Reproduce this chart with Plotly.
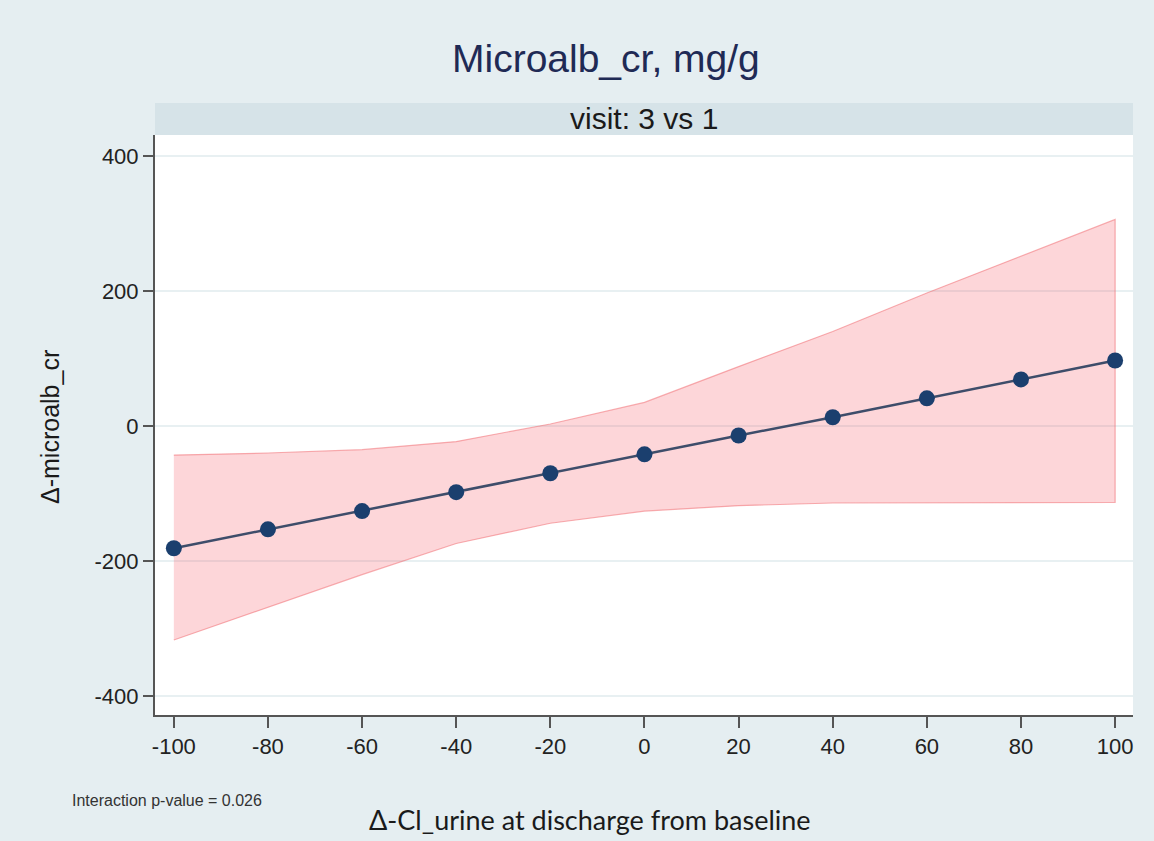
import plotly.graph_objects as go

# ---- data ----
x_vals = [-100, -80, -60, -40, -20, 0, 20, 40, 60, 80, 100]
est = [-181, -153, -126, -98, -70, -42, -14, 13, 41, 69, 97]
ci_upper = [-43, -40, -35, -23, 3, 35, 88, 140, 197, 252, 306]
ci_lower = [-317, -268, -220, -174, -144, -126, -118, -114, -113, -113, -113]
x_ticks = [-100, -80, -60, -40, -20, 0, 20, 40, 60, 80, 100]
y_ticks = [-400, -200, 0, 200, 400]

BG = "#e5eef1"
STRIP = "#d6e3e8"

fig = go.Figure()

# confidence band as closed polygon
fig.add_trace(go.Scatter(
    x=x_vals + x_vals[::-1],
    y=ci_upper + ci_lower[::-1],
    fill="toself",
    fillcolor="rgba(245,70,80,0.22)",
    line=dict(color="rgba(240,110,115,0.55)", width=1.2),
    mode="lines",
    hoverinfo="skip",
    showlegend=False,
))

# zero reference line
fig.add_hline(y=0, line=dict(color="#e23a3c", width=2.5), layer="above")

# estimate line + markers
fig.add_trace(go.Scatter(
    x=x_vals, y=est,
    mode="lines+markers",
    line=dict(color="#3e4d6a", width=2.5),
    marker=dict(color="#1b3f6e", size=16, line=dict(width=0)),
    showlegend=False,
))

H_PLOT = 580.0
W_PLOT = 978.0
L, T = 155, 135

def px_x(px):
    return (px - L) / W_PLOT

def px_y(py):
    return (T + H_PLOT - py) / H_PLOT

shapes = [
    # strip header
    dict(type="rect", xref="paper", yref="paper",
         x0=0, x1=1, y0=1, y1=px_y(103),
         fillcolor=STRIP, line=dict(width=0), layer="below"),
]

annotations = [
    dict(text="Microalb_cr, mg/g", xref="paper", yref="paper",
         x=px_x(606), y=px_y(58), showarrow=False,
         font=dict(family="Liberation Sans, Arial", size=39, color="#1f2a55"),
         xanchor="center", yanchor="middle"),
    dict(text="visit: 3 vs 1", xref="paper", yref="paper",
         x=0.5, y=px_y(119), showarrow=False,
         font=dict(family="Liberation Sans, Arial", size=30, color="#1a1a1a"),
         xanchor="center", yanchor="middle"),
    dict(text="Interaction p-value = 0.026", xref="paper", yref="paper",
         x=px_x(70), y=px_y(800), showarrow=False,
         font=dict(family="Liberation Sans, Arial", size=16, color="#333333"),
         xanchor="left", yanchor="middle"),
    dict(text="Δ-Cl_urine at discharge from baseline", xref="paper", yref="paper",
         x=px_x(590), y=px_y(819), showarrow=False,
         font=dict(family="Lato, Open Sans, sans-serif", size=27, color="#1a1a1a"),
         xanchor="center", yanchor="middle"),
    dict(text="Δ-microalb_cr", xref="paper", yref="paper",
         x=px_x(50), y=px_y(427), showarrow=False, textangle=-90,
         font=dict(family="Liberation Sans, Arial", size=25, color="#1a1a1a"),
         xanchor="center", yanchor="middle"),
]

fig.update_layout(
    width=1154, height=841,
    margin=dict(l=L, r=1154 - 1133, t=T, b=841 - 715, pad=0),
    paper_bgcolor=BG,
    plot_bgcolor="white",
    shapes=shapes,
    annotations=annotations,
    showlegend=False,
)

fig.update_xaxes(
    range=[-104, 103.8],
    tickvals=x_ticks,
    ticktext=[str(v) for v in x_ticks],
    showgrid=False, zeroline=False,
    showline=True, linecolor="#555555", linewidth=2,
    ticks="outside", ticklen=11, tickwidth=1.5, tickcolor="#555555",
    tickfont=dict(family="Liberation Sans, Arial", size=22, color="#222222"),
)
fig.update_yaxes(
    range=[-428, 431],
    tickvals=y_ticks,
    ticktext=[str(v) for v in y_ticks],
    showgrid=True, gridcolor="#e8f0f2", gridwidth=1.5,
    zeroline=False,
    showline=True, linecolor="#555555", linewidth=2,
    ticks="outside", ticklen=10, tickwidth=1.5, tickcolor="#555555",
    tickfont=dict(family="Liberation Sans, Arial", size=22, color="#222222"),
)

fig.write_html("out.html", config={"displayModeBar": False},
               post_script="document.body.style.margin='0px';")
